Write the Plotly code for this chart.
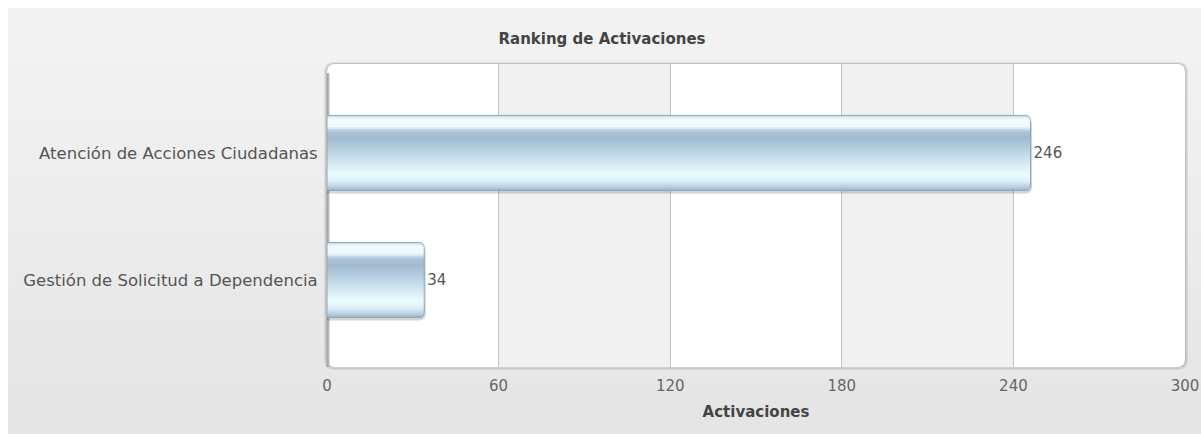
import plotly.graph_objects as go
import math

# ---- data ----
categories = ["Gestión de Solicitud a Dependencia", "Atención de Acciones Ciudadanas"]
values = [34, 246]
x_ticks = [0, 60, 120, 180, 240, 300]
title_text = "Ranking de Activaciones"
x_title = "Activaciones"

# ---- geometry (styling) ----
W_FIG, H_FIG = 1201, 434
L, R, T, B = 327, 16, 64, 67
PW = W_FIG - L - R
PH = H_FIG - T - B
X_RANGE = [0, 300]
Y_RANGE = [-0.685, 1.70]
px_per_x = PW / (X_RANGE[1] - X_RANGE[0])
px_per_y = PH / (Y_RANGE[1] - Y_RANGE[0])
FONT = "DejaVu Sans, Verdana, sans-serif"


def px2paper(px, py):
    return (px - L) / PW, (H_FIG - B - py) / PH


def rounded_path(x0, y0, x1, y1, r):
    def p(x, y):
        a, b = px2paper(x, y)
        return f"{a:.5f},{b:.5f}"
    s = f"M {p(x0 + r, y0)} L {p(x1 - r, y0)} Q {p(x1, y0)} {p(x1, y0 + r)} "
    s += f"L {p(x1, y1 - r)} Q {p(x1, y1)} {p(x1 - r, y1)} "
    s += f"L {p(x0 + r, y1)} Q {p(x0, y1)} {p(x0, y1 - r)} "
    s += f"L {p(x0, y0 + r)} Q {p(x0, y0)} {p(x0 + r, y0)} Z"
    return s


def lerp_color(stops, t):
    for (t0, c0), (t1, c1) in zip(stops[:-1], stops[1:]):
        if t0 <= t <= t1:
            f = 0 if t1 == t0 else (t - t0) / (t1 - t0)
            c = [round(c0[k] + (c1[k] - c0[k]) * f) for k in range(3)]
            return f"rgb({c[0]},{c[1]},{c[2]})"
    c = stops[-1][1]
    return f"rgb({c[0]},{c[1]},{c[2]})"


shapes = []
# background gradient panel starting 8px in from top/left
bg_stops = [(0, (243, 243, 243)), (1, (229, 229, 229))]
NB = 30
top_px = 8
for i in range(NB):
    ya = top_px + (H_FIG - top_px) * i / NB
    yb = top_px + (H_FIG - top_px) * (i + 1) / NB + (0.6 if i < NB - 1 else 4)
    x0p, y0p = px2paper(8, ya)
    x1p, y1p = px2paper(W_FIG + 10, yb)
    shapes.append(dict(type="rect", xref="paper", yref="paper", x0=x0p, x1=x1p, y0=y1p, y1=y0p,
                       fillcolor=lerp_color(bg_stops, i / (NB - 1)), line=dict(width=0), layer="below"))

# plot frame shadow + white rounded frame
shapes.append(dict(type="path", xref="paper", yref="paper", path=rounded_path(L - 3, T - 2, L + PW + 3, T + PH + 3, 10),
                   fillcolor="rgba(0,0,0,0.07)", line=dict(width=0), layer="below"))
shapes.append(dict(type="path", xref="paper", yref="paper", path=rounded_path(L - 1.5, T - 1, L + PW + 1.5, T + PH + 1.5, 9),
                   fillcolor="rgba(0,0,0,0.13)", line=dict(width=0), layer="below"))
shapes.append(dict(type="path", xref="paper", yref="paper", path=rounded_path(L, T, L + PW, T + PH, 8),
                   fillcolor="white", line=dict(width=0), layer="below"))
# alternate bands
for a, b in zip(x_ticks[1::2], x_ticks[2::2]):
    shapes.append(dict(type="rect", xref="x", yref="paper", x0=a, x1=b, y0=0, y1=1,
                       fillcolor="#f0f0f0", line=dict(width=0), layer="below"))
# left axis line (with soft shadow)
shapes.append(dict(type="rect", xref="paper", yref="paper", x0=px2paper(L - 1, 0)[0], x1=px2paper(L + 2.5, 0)[0],
                   y0=0, y1=px2paper(0, T + 9)[1], fillcolor="#c2c2c2", line=dict(width=0), layer="below"))
shapes.append(dict(type="rect", xref="paper", yref="paper", x0=px2paper(L - 0.5, 0)[0], x1=px2paper(L + 1.5, 0)[0],
                   y0=0, y1=px2paper(0, T + 9)[1], fillcolor="#a9a9a9", line=dict(width=0), layer="below"))
# bottom edge line
shapes.append(dict(type="rect", xref="paper", yref="paper", x0=0, x1=1,
                   y0=px2paper(0, T + PH + 1)[1], y1=0, fillcolor="#cfcfcf", line=dict(width=0), layer="below"))

fig = go.Figure()

BW = 0.59
shadow_dy = 3 / px_per_y
fig.add_trace(go.Bar(
    y=categories, x=[v + 1.5 / px_per_x for v in values], orientation="h",
    width=BW, offset=-BW / 2 - shadow_dy,
    marker=dict(color="rgba(0,0,0,0.17)", line=dict(width=0), cornerradius=6),
    hoverinfo="skip", showlegend=False))

bar_stops = [
    (0.00, (200, 218, 232)),
    (0.05, (244, 251, 255)),
    (0.15, (238, 249, 254)),
    (0.21, (176, 198, 217)),
    (0.30, (160, 186, 207)),
    (0.55, (198, 222, 236)),
    (0.78, (234, 253, 255)),
    (0.88, (220, 240, 249)),
    (0.96, (178, 203, 221)),
    (1.00, (152, 178, 200)),
]
N = 38
ws = BW / N
rad = 5.0
half = N // 2


def inset_for(d_px):
    if d_px >= rad:
        return 0.0
    return rad - math.sqrt(max(rad ** 2 - (rad - d_px) ** 2, 0))


# top half: strip i spans from its top edge down to the bar centre; outer first
for i in range(half):
    t = (i + 0.5) / N
    d_px = (i + 0.5) * ws * px_per_y
    xs = [v - inset_for(d_px) / px_per_x for v in values]
    top = BW / 2 - i * ws
    fig.add_trace(go.Bar(
        y=categories, x=xs, orientation="h", width=top, offset=0,
        marker=dict(color=lerp_color(bar_stops, t), line=dict(width=0)),
        hoverinfo="skip", showlegend=False))
# bottom half: strip j spans from its bottom edge up to the bar centre; outer first
for j in range(N - half):
    i = N - 1 - j
    t = (i + 0.5) / N
    d_px = (j + 0.5) * ws * px_per_y
    xs = [v - inset_for(d_px) / px_per_x for v in values]
    bot = -BW / 2 + j * ws
    fig.add_trace(go.Bar(
        y=categories, x=xs, orientation="h", width=-bot, offset=bot,
        marker=dict(color=lerp_color(bar_stops, t), line=dict(width=0)),
        hoverinfo="skip", showlegend=False))

fig.add_trace(go.Bar(
    y=categories, x=values, orientation="h", width=BW, offset=-BW / 2,
    marker=dict(color="rgba(0,0,0,0)", line=dict(color="#8ea6bb", width=1), cornerradius=5),
    text=[str(v) for v in values], textposition="outside", cliponaxis=False,
    textfont=dict(family=FONT, size=15, color="#555555"),
    hoverinfo="skip", showlegend=False))

fig.update_layout(
    width=W_FIG, height=H_FIG, autosize=False,
    margin=dict(l=L, r=R, t=T, b=B, pad=0, autoexpand=False),
    paper_bgcolor="white", plot_bgcolor="rgba(0,0,0,0)",
    barmode="overlay",
    shapes=shapes,
    title=dict(text=f"<b>{title_text}</b>", x=602 / W_FIG, xanchor="center", y=1 - 39 / H_FIG, yanchor="middle",
               font=dict(family=FONT, size=15, color="#444444")),
    xaxis=dict(range=X_RANGE, tickvals=x_ticks, ticktext=[str(v) for v in x_ticks],
               showgrid=True, gridcolor="#c4c4c4", gridwidth=1, zeroline=False, showline=False,
               ticks="outside", ticklen=5, tickcolor="rgba(0,0,0,0)", automargin=False,
               tickfont=dict(family=FONT, size=15, color="#666666"),
               title=dict(text=f"<b>{x_title}</b>", font=dict(family=FONT, size=15, color="#444444"), standoff=12),
               fixedrange=True),
    yaxis=dict(type="category", categoryorder="array", categoryarray=categories, range=Y_RANGE,
               showgrid=False, zeroline=False, showline=False, automargin=False,
               ticks="outside", ticklen=5, tickcolor="rgba(0,0,0,0)",
               tickfont=dict(family=FONT, size=16.5, color="#555555"), fixedrange=True),
)

fig.write_html("out.html", config={"displayModeBar": False, "staticPlot": True},
               post_script="document.body.style.margin='0px';document.body.style.overflow='hidden';")
